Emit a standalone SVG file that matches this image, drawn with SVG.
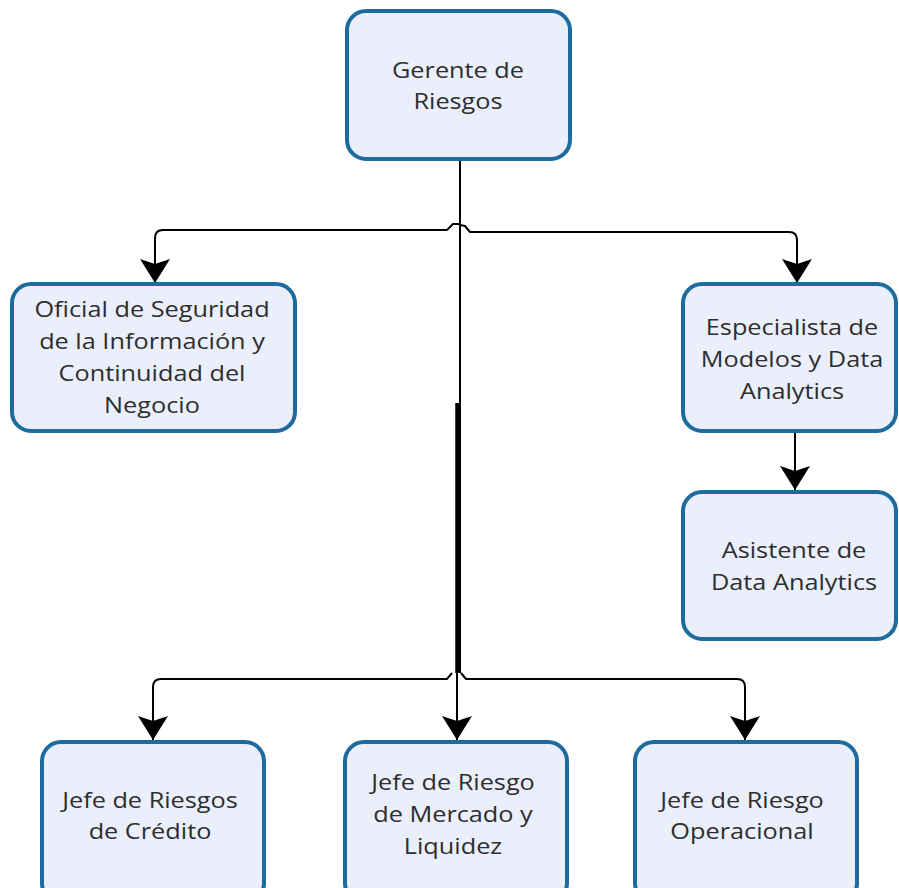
<svg xmlns="http://www.w3.org/2000/svg" width="899" height="888" viewBox="0 0 899 888">
<style>
.box{fill:#ebeefb;stroke:#1e6b9e;stroke-width:4}
.t{font-family:"Open Sans","Noto Sans","DejaVu Sans",sans-serif;font-size:22px;fill:#2e2e2e;text-anchor:middle}
.c{fill:none;stroke:#000;stroke-width:2}
</style>
<defs>
<marker id="arr" markerUnits="userSpaceOnUse" markerWidth="32" markerHeight="32" viewBox="-26 -16 28 32" refX="0" refY="0" orient="auto">
<path d="M0,0 L-24,-15 L-19,0 L-24,15 Z" fill="#000"/>
</marker>
</defs>
<rect width="899" height="888" fill="#fff"/>
<g id="connectors">
<path class="c" d="M460,161 L460,673"/>
<path class="c" style="stroke-width:4.5" d="M457.5,403 L457.5,673"/>
<path class="c" d="M457,673 L457,740" marker-end="url(#arr)"/>
<path class="c" d="M459,224 L453,224 L447,230 L163,230 Q155,230 155,238 L155,283" marker-end="url(#arr)"/>
<path class="c" d="M460,225 L465,226 L470,232 L789,232 Q797,232 797,240 L797,283" marker-end="url(#arr)"/>
<path class="c" d="M452,673 L447,679 L161,679 Q153,679 153,687 L153,740" marker-end="url(#arr)"/>
<path class="c" d="M461,673 L466,679 L737,679 Q745,679 745,687 L745,740" marker-end="url(#arr)"/>
<path class="c" d="M795,433 L795,490" marker-end="url(#arr)"/>
</g>
<g id="gerente">
<rect class="box" x="347" y="11" width="223" height="148" rx="19"/>
<text class="t" transform="translate(458,0) scale(1.15,1)"><tspan x="0" y="78">Gerente de</tspan><tspan x="0" y="109">Riesgos</tspan></text>
</g>
<g id="oficial">
<rect class="box" x="12" y="284" width="283" height="147" rx="19"/>
<text class="t" transform="translate(152,0) scale(1.15,1)"><tspan x="0" y="317">Oficial de Seguridad</tspan><tspan x="0" y="349">de la Información y</tspan><tspan x="0" y="381">Continuidad del</tspan><tspan x="0" y="413">Negocio</tspan></text>
</g>
<g id="especialista">
<rect class="box" x="683" y="284" width="213" height="147" rx="19"/>
<text class="t" transform="translate(792,0) scale(1.15,1)"><tspan x="0" y="335">Especialista de</tspan><tspan x="0" y="367">Modelos y Data</tspan><tspan x="0" y="399">Analytics</tspan></text>
</g>
<g id="asistente">
<rect class="box" x="683" y="492" width="213" height="147" rx="19"/>
<text class="t" transform="translate(794,0) scale(1.15,1)"><tspan x="0" y="558">Asistente de</tspan><tspan x="0" y="590">Data Analytics</tspan></text>
</g>
<g id="credito">
<rect class="box" x="42" y="742" width="222" height="160" rx="19"/>
<text class="t" transform="translate(150,0) scale(1.15,1)"><tspan x="0" y="808">Jefe de Riesgos</tspan><tspan x="0" y="839">de Crédito</tspan></text>
</g>
<g id="mercado">
<rect class="box" x="345" y="742" width="222" height="160" rx="19"/>
<text class="t" transform="translate(453,0) scale(1.15,1)"><tspan x="0" y="790">Jefe de Riesgo</tspan><tspan x="0" y="822">de Mercado y</tspan><tspan x="0" y="854">Liquidez</tspan></text>
</g>
<g id="operacional">
<rect class="box" x="635" y="742" width="222" height="160" rx="19"/>
<text class="t" transform="translate(742,0) scale(1.15,1)"><tspan x="0" y="808">Jefe de Riesgo</tspan><tspan x="0" y="839">Operacional</tspan></text>
</g>
</svg>
